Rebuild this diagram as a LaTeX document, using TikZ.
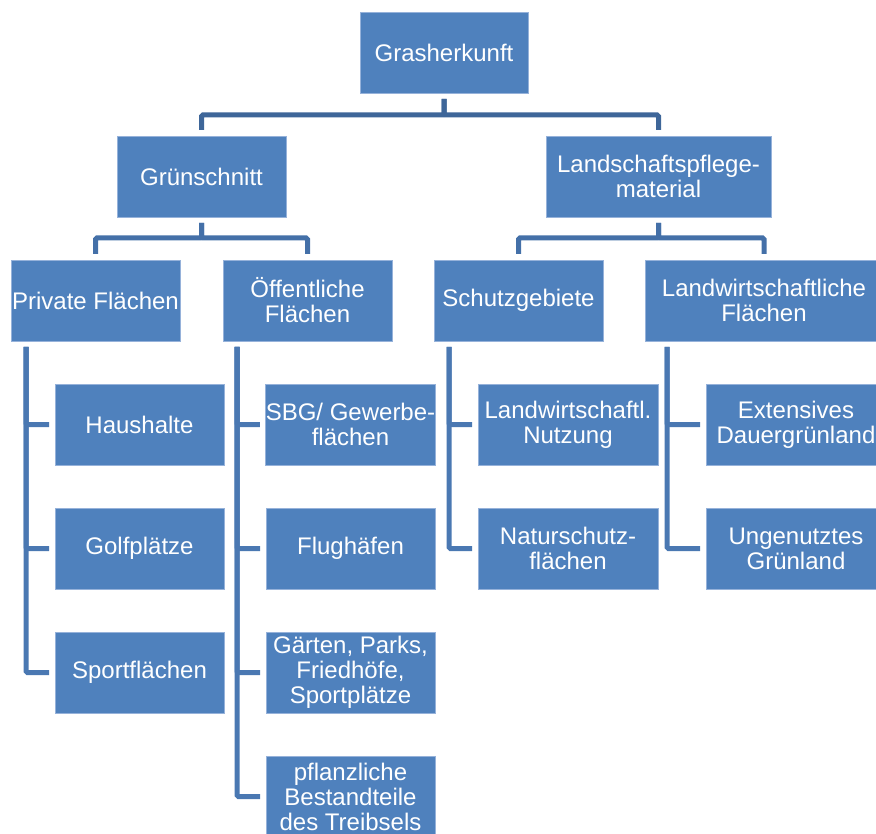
\documentclass[tikz,border=0pt]{standalone}
\usepackage{fontspec}
\setmainfont{Liberation Sans}
\usetikzlibrary{positioning}
\definecolor{boxblue}{RGB}{79,129,189}
\definecolor{boxedge}{RGB}{150,178,218}
\definecolor{linkdark}{RGB}{62,102,153}
\definecolor{linkmid}{RGB}{68,112,168}
\definecolor{linklight}{RGB}{74,120,178}
\tikzset{
  kasten/.style={
    draw=boxedge,
    line width=.8pt,
    fill=boxblue,
    text=white,
    align=center,
    minimum width=169pt,
    minimum height=81pt,
    inner xsep=0pt,
    inner ysep=2pt,
    outer sep=0pt,
    font=\fontsize{24}{25}\selectfont
  },
  link/.style={
    line width=5pt,
    shorten <=6pt,
    shorten >=6pt,
    rounded corners=1.5pt
  }
}
\begin{document}
\begin{tikzpicture}[x=1pt, y=-1pt, node distance=43pt]
\useasboundingbox (0,0) rectangle (876,834);
\clip (0,0) rectangle (876,834);
% Kopf und erste Ebene
\node[kasten, minimum width=168pt] (root) at (444,52.5) {Grasherkunft};
\node[kasten] (gruen) at (201.5,176.5) {Grünschnitt};
\node[kasten, minimum width=225pt] (land) at (658.5,176.5) {Landschaftspflege-\\material};
% zweite Ebene
\node[kasten] (priv) at (95.5,300.5) {Private Flächen};
\node[kasten] (oeff) at (307.5,300.5) {Öffentliche\\Flächen};
\node[kasten] (schutz) at (518.5,300.5) {Schutzgebiete};
\node[kasten, minimum width=238pt] (lwf) at (764,300.5) {Landwirtschaftliche\\Flächen};
% Blätter
\node[kasten] (haus) at (139.5,424.5) {Haushalte};
\node[kasten, below=of haus] (golf) {Golfplätze};
\node[kasten, below=of golf] (sport) {Sportflächen};
\node[kasten] (sbg) at (350.5,424.5) {SBG/ Gewerbe-\\flächen};
\node[kasten, below=of sbg] (flug) {Flughäfen};
\node[kasten, below=of flug] (gaerten) {Gärten, Parks,\\Friedhöfe,\\Sportplätze};
\node[kasten, below=of gaerten] (pflanz) {pflanzliche\\Bestandteile\\des Treibsels};
\node[kasten, minimum width=180pt] (lnutz) at (568,424.5) {Landwirtschaftl.\\Nutzung};
\node[kasten, minimum width=180pt, below=of lnutz] (natur) {Naturschutz-\\flächen};
\node[kasten, minimum width=180pt] (ext) at (796,424.5) {Extensives\\Dauergrünland};
\node[kasten, minimum width=180pt, below=of ext] (unget) {Ungenutztes\\Grünland};
% Verbindungen
\draw[link, linkdark] (root.south) -- ++(0,22) -| (gruen.north);
\draw[link, linkdark] (root.south) -- ++(0,22) -| (land.north);
\draw[link, linkmid] (gruen.south) -- ++(0,21) -| (priv.north);
\draw[link, linkmid] (gruen.south) -- ++(0,21) -| (oeff.north);
\draw[link, linkmid] (land.south) -- ++(0,21) -| (schutz.north);
\draw[link, linkmid] (land.south) -- ++(0,21) -| (lwf.north);
\foreach \kind in {haus,golf,sport}
  \draw[link, linklight] ([xshift=15pt]priv.south west) |- (\kind.west);
\foreach \kind in {sbg,flug,gaerten,pflanz}
  \draw[link, linklight] ([xshift=14pt]oeff.south west) |- (\kind.west);
\foreach \kind in {lnutz,natur}
  \draw[link, linklight] ([xshift=15pt]schutz.south west) |- (\kind.west);
\foreach \kind in {ext,unget}
  \draw[link, linklight] ([xshift=22pt]lwf.south west) |- (\kind.west);
\end{tikzpicture}
\end{document}
